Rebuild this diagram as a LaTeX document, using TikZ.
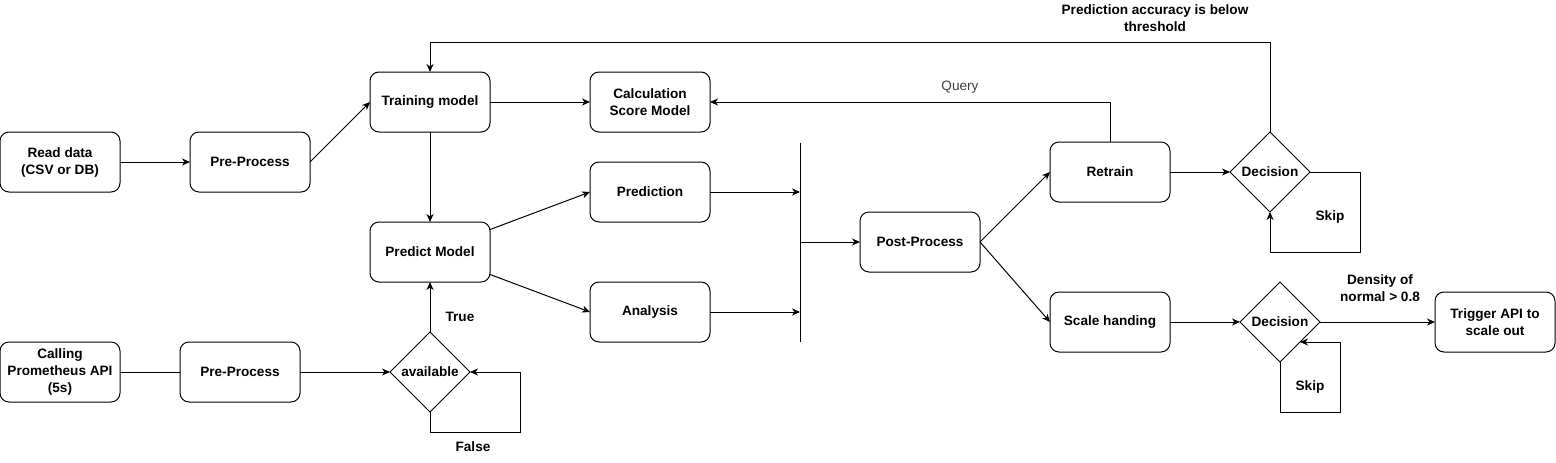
\documentclass[tikz,border=0pt]{standalone}
\usepackage{fontspec}
\setmainfont{Liberation Sans}
\usetikzlibrary{arrows.meta,shapes.geometric}
\begin{document}
\begin{tikzpicture}[x=1pt,y=-1pt,line width=1pt,
  font=\fontsize{13.6}{17}\selectfont\bfseries,
  box/.style={draw,rounded corners=9pt,minimum width=120pt,minimum height=60pt,align=center,inner sep=2pt,outer sep=0pt},
  decision/.style={draw,diamond,aspect=1,minimum width=80pt,minimum height=80pt,inner sep=0pt,outer sep=0pt},
  lbl/.style={align=center,inner sep=0pt},
  arr/.style={-{Stealth[length=8pt,width=7pt,inset=2.5pt]}}]
\useasboundingbox (0,0) rectangle (1556,463);

\node[box] (readdata) at (60,162) {Read data\\(CSV or DB)};
\node[box] (preA) at (250,162) {Pre-Process};
\node[box] (training) at (430,102) {Training model};
\node[box] (predict) at (430,252) {Predict Model};
\node[box] (calling) at (60,372) {Calling\\Prometheus API\\(5s)};
\node[box] (preB) at (240,372) {Pre-Process};
\node[decision] (avail) at (430,372) {available};
\node[box] (calc) at (650,102) {Calculation\\Score Model};
\node[box] (prediction) at (650,192) {Prediction};
\node[box] (analysis) at (650,312) {Analysis};
\node[box] (post) at (920,242) {Post-Process};
\node[box] (retrain) at (1110,172) {Retrain};
\node[decision] (decA) at (1270,172) {Decision};
\node[box] (scale) at (1110,322) {Scale handing};
\node[decision] (decB) at (1280,322) {Decision};
\node[box] (trigger) at (1495,322) {Trigger API to\\scale out};

\coordinate (bartop) at (800,143);
\coordinate (barbot) at (800,342);
\coordinate (barmid) at (800,242);
\coordinate (loopA) at (520,432);
\coordinate (topA) at (430,42);
\coordinate (skipA) at (1360,252);
\coordinate (skipB) at (1340,412);

\node[lbl] (lblTrue) at (460,317) {True};
\node[lbl] (lblFalse) at (473,447) {False};
\node[lbl,font=\fontsize{13.6}{17}\selectfont,text=black!75] (lblQuery) at (960,87) {Query};
\node[lbl] (lblAcc) at (1155,18) {Prediction accuracy is below\\threshold};
\node[lbl] (lblSkipA) at (1330,217) {Skip};
\node[lbl] (lblSkipB) at (1310,387) {Skip};
\node[lbl] (lblDensity) at (1380,288) {Density of\\normal > 0.8};

\draw[arr] (readdata) -- (preA);
\draw[arr] (preA.east) -- (training.west);
\draw[arr] (training) -- (calc);
\draw[arr] (training) -- (predict);
\draw[arr] (predict) -- (prediction.west);
\draw[arr] (predict) -- (analysis.west);
\draw (calling) -- (preB);
\draw[arr] (preB) -- (avail);
\draw[arr] (avail) -- (predict);
\draw[arr] (avail.south) |- (loopA) |- (avail.east);
\draw (bartop) -- (barbot);
\draw[arr] (prediction.east) -- (prediction.east -| bartop);
\draw[arr] (analysis.east) -- (analysis.east -| bartop);
\draw[arr] (barmid) -- (post);
\draw[arr] (post.east) -- (retrain.west);
\draw[arr] (post.east) -- (scale.west);
\draw[arr] (retrain) -- (decA);
\draw[arr] (retrain.north) |- (calc.east);
\draw[arr] (decA.north) |- (topA) -- (training.north);
\draw[arr] (decA.east) -| (skipA) -| (decA.south);
\draw[arr] (scale) -- (decB);
\draw[arr] (decB) -- (trigger);
\draw[arr] (decB.south) |- (skipB) |- (decB.south east);
\end{tikzpicture}
\end{document}
